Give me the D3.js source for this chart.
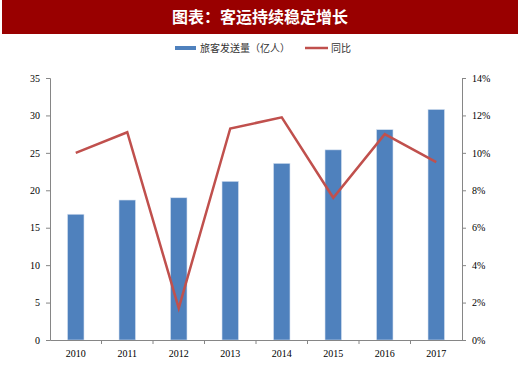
<!DOCTYPE html>
<meta charset="utf-8">
<style>
  body { margin: 0; background: #fff; }
  .tick text { font-family: "Liberation Serif", serif; font-size: 10px; fill: #000; }
  .domain, .tick line { stroke: #868686; }
</style>
<script src="https://d3js.org/d3.v7.min.js"></script>
<div id="chart"></div>
<script>
// data
var years = ["2010", "2011", "2012", "2013", "2014", "2015", "2016", "2017"];
var passengers = [16.8, 18.7, 19.0, 21.2, 23.6, 25.4, 28.1, 30.8];   // 亿人
var growth = [10.0, 11.1, 1.7, 11.3, 11.9, 7.6, 11.0, 9.5];          // %

var W = 520, H = 365;
var margin = {top: 78, right: 58, bottom: 25, left: 50},
    width = W - margin.left - margin.right,
    height = H - margin.top - margin.bottom;

var svg = d3.select("#chart").append("svg")
    .attr("width", W)
    .attr("height", H);

// title bar
svg.append("rect")
    .attr("x", 2).attr("y", 0)
    .attr("width", 516).attr("height", 34)
    .style("fill", "#990000");
svg.append("text")
    .attr("x", 260).attr("y", 23)
    .attr("text-anchor", "middle")
    .style("font-family", "Noto Sans CJK SC")
    .style("font-weight", "bold")
    .style("font-size", "16px")
    .style("fill", "#fff")
    .text("图表：客运持续稳定增长");

// legend
var legend = svg.append("g").style("font-family", "Noto Sans CJK SC").style("font-size", "10px");
legend.append("rect").attr("x", 175).attr("y", 46).attr("width", 21).attr("height", 4).style("fill", "#4F81BD");
legend.append("text").attr("x", 200).attr("y", 52).style("fill", "#333").text("旅客发送量（亿人）");
legend.append("line").attr("x1", 305).attr("x2", 328).attr("y1", 48).attr("y2", 48)
    .style("stroke", "#C0504D").style("stroke-width", 2.5);
legend.append("text").attr("x", 331).attr("y", 52).style("fill", "#333").text("同比");

var g = svg.append("g")
    .attr("transform", "translate(" + margin.left + "," + margin.top + ")");

var x = d3.scaleBand()
    .domain(years)
    .range([0, width])
    .paddingInner(0.68)
    .paddingOuter(0.34);

var xPos = d3.scaleBand().domain(years).range([0, width]);

var y = d3.scaleLinear().domain([0, 35]).range([height, 0]);
var y2 = d3.scaleLinear().domain([0, 14]).range([height, 0]);

// axes
g.append("g")
    .call(d3.axisLeft(y).tickValues(d3.range(0, 36, 5)).tickSize(4).tickPadding(6));

g.append("g")
    .attr("transform", "translate(" + width + ",0)")
    .call(d3.axisRight(y2).tickValues(d3.range(0, 15, 2)).tickSize(4).tickPadding(6)
      .tickFormat(function(d) { return d + "%"; }));

// bars
g.selectAll(".bar")
  .data(years)
  .enter()
  .append("rect")
    .attr("x", function(d) { return x(d); })
    .attr("width", x.bandwidth())
    .attr("y", function(d, i) { return y(passengers[i]); })
    .attr("height", function(d, i) { return height - y(passengers[i]); })
    .style("fill", "#4F81BD")
    .style("stroke", "#D6E1F0")
    .style("stroke-width", 0.6);

// x axis
var xAxis = g.append("g")
    .attr("transform", "translate(0," + height + ")")
    .call(d3.axisBottom(xPos).tickSize(0).tickPadding(10));
// category separator ticks
xAxis.selectAll(".sep")
  .data(years.slice(1))
  .enter()
  .append("line")
    .attr("x1", function(d) { return xPos(d); })
    .attr("x2", function(d) { return xPos(d); })
    .attr("y1", 0).attr("y2", 4)
    .style("stroke", "#868686");

// line
var line = d3.line()
    .x(function(d, i) { return xPos(years[i]) + xPos.bandwidth() / 2; })
    .y(function(d) { return y2(d); });
g.append("path")
    .datum(growth)
    .attr("d", line)
    .style("fill", "none")
    .style("stroke", "#C0504D")
    .style("stroke-width", 2.5);
</script>
